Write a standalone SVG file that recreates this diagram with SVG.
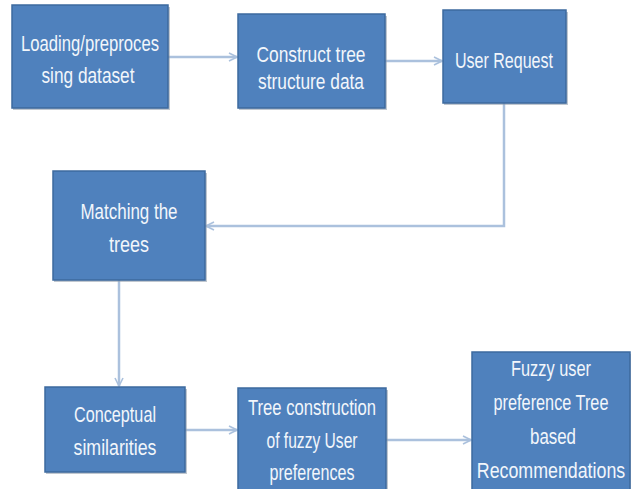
<svg xmlns="http://www.w3.org/2000/svg" width="631" height="489" viewBox="0 0 631 489">
  <style>
    .box { fill: #4f81bd; stroke: #3d6a9e; stroke-width: 1.5; }
    .shadow { fill: #8d99a8; opacity: 0.55; }
    .label { fill: #f2f6fb; font-family: "Liberation Sans", Arial, sans-serif; font-size: 22px; text-anchor: middle; }
    .conn { fill: none; stroke: #abc1dd; stroke-width: 2.5; marker-end: url(#chev); }
  </style>
  <defs>
    <marker id="chev" viewBox="0 0 10 10" refX="9" refY="5" markerWidth="4" markerHeight="4" orient="auto" markerUnits="strokeWidth">
      <path d="M1,1 L9,5 L1,9" fill="none" stroke="#abc1dd" stroke-width="1.6"/>
    </marker>
  </defs>
  <rect width="631" height="489" fill="#ffffff"/>

  <!-- connectors -->
  <g id="connectors">
    <path class="conn" d="M168,57 H237"/>
    <path class="conn" d="M385,61 H442"/>
    <path class="conn" d="M504,103 V226 H206"/>
    <path class="conn" d="M119,280 V386"/>
    <path class="conn" d="M185,430 H237"/>
    <path class="conn" d="M386,440 H471"/>
  </g>

  <!-- process steps -->
  <g id="load">
    <rect class="shadow" x="13" y="7" width="157" height="103"/>
    <rect class="box" x="12" y="5" width="156" height="103"/>
    <text class="label" x="90" y="51" textLength="138" lengthAdjust="spacingAndGlyphs">Loading/preproces</text>
    <text class="label" x="88" y="83" textLength="93" lengthAdjust="spacingAndGlyphs">sing dataset</text>
  </g>

  <g id="construct">
    <rect class="shadow" x="239" y="16" width="148" height="94"/>
    <rect class="box" x="238" y="14" width="147" height="94"/>
    <text class="label" x="311" y="62" textLength="109" lengthAdjust="spacingAndGlyphs">Construct  tree</text>
    <text class="label" x="311" y="89" textLength="106" lengthAdjust="spacingAndGlyphs">structure data</text>
  </g>

  <g id="request">
    <rect class="shadow" x="444" y="12" width="124" height="93"/>
    <rect class="box" x="443" y="10" width="123" height="93"/>
    <text class="label" x="504" y="68" textLength="98" lengthAdjust="spacingAndGlyphs">User Request</text>
  </g>

  <g id="matching">
    <rect class="shadow" x="54" y="173" width="153" height="109"/>
    <rect class="box" x="53" y="171" width="152" height="109"/>
    <text class="label" x="129" y="219" textLength="97" lengthAdjust="spacingAndGlyphs">Matching the</text>
    <text class="label" x="129" y="252" textLength="40" lengthAdjust="spacingAndGlyphs">trees</text>
  </g>

  <g id="conceptual">
    <rect class="shadow" x="46" y="389" width="141" height="85"/>
    <rect class="box" x="45" y="387" width="140" height="85"/>
    <text class="label" x="115" y="422" textLength="82" lengthAdjust="spacingAndGlyphs">Conceptual</text>
    <text class="label" x="115" y="455" textLength="83" lengthAdjust="spacingAndGlyphs">similarities</text>
  </g>

  <g id="tree-construction">
    <rect class="shadow" x="239" y="390" width="149" height="110"/>
    <rect class="box" x="238" y="388" width="148" height="110"/>
    <text class="label" x="312" y="415" textLength="128" lengthAdjust="spacingAndGlyphs">Tree construction</text>
    <text class="label" x="312" y="448" textLength="91" lengthAdjust="spacingAndGlyphs">of fuzzy User</text>
    <text class="label" x="312" y="480" textLength="85" lengthAdjust="spacingAndGlyphs">preferences</text>
  </g>

  <g id="recommendations">
    <rect class="shadow" x="473" y="354" width="158" height="150"/>
    <rect class="box" x="472" y="352" width="158" height="150"/>
    <text class="label" x="551" y="376" textLength="80" lengthAdjust="spacingAndGlyphs">Fuzzy user</text>
    <text class="label" transform="translate(551,410) scale(0.74,1)">preference Tree</text>
    <text class="label" x="553" y="444" textLength="46" lengthAdjust="spacingAndGlyphs">based</text>
    <text class="label" transform="translate(551,478) scale(0.81,1)">Recommendations</text>
  </g>
</svg>
